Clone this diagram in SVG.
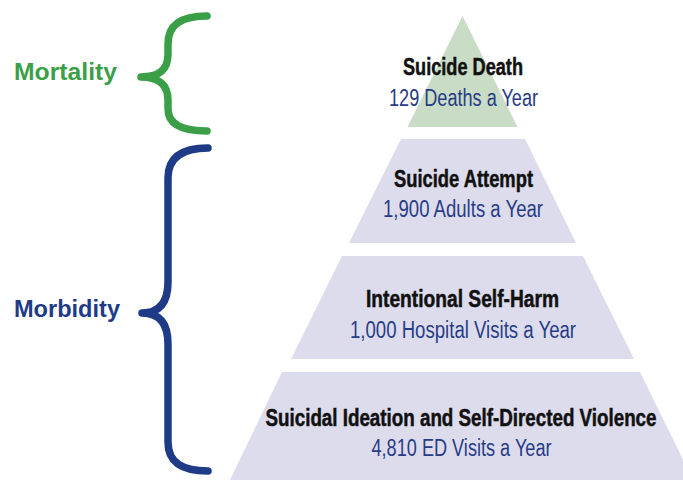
<svg xmlns="http://www.w3.org/2000/svg" width="683" height="480" viewBox="0 0 683 480">
  <style>
    .bg { fill: #ffffff; }
    .green { fill: #c9dcc5; }
    .lav { fill: #dddced; }
    .title { font-family: "Liberation Sans", Arial, sans-serif; font-weight: bold; font-size: 23px; fill: #111111; stroke: #111111; stroke-width: 0.5px; text-anchor: middle; }
    .sub { font-family: "Liberation Sans", Arial, sans-serif; font-size: 23px; fill: #283c86; text-anchor: middle; }
    .brace { fill: none; stroke-width: 7.5; stroke-linecap: round; stroke-linejoin: round; }
    .label { font-family: "Liberation Sans", Arial, sans-serif; font-weight: bold; font-size: 23px; }
  </style>
  <rect class="bg" x="0" y="0" width="683" height="480"/>

  <g id="tier-suicide-death">
    <polygon class="green" points="462.5,16 517.5,127 407.5,127"/>
    <text class="title" x="463" y="75" textLength="120" lengthAdjust="spacingAndGlyphs">Suicide Death</text>
    <text class="sub" x="463.5" y="106" textLength="149" lengthAdjust="spacingAndGlyphs">129 Deaths a Year</text>
  </g>

  <g id="tier-suicide-attempt">
    <polygon class="lav" points="401,139 525,139 576,243 349,243"/>
    <text class="title" x="463.5" y="187" textLength="139" lengthAdjust="spacingAndGlyphs">Suicide Attempt</text>
    <text class="sub" x="463" y="217" textLength="160" lengthAdjust="spacingAndGlyphs">1,900 Adults a Year</text>
  </g>

  <g id="tier-self-harm">
    <polygon class="lav" points="342,256 583,256 634,359 291,359"/>
    <text class="title" x="462.5" y="307" textLength="193" lengthAdjust="spacingAndGlyphs">Intentional Self-Harm</text>
    <text class="sub" x="463" y="338" textLength="226" lengthAdjust="spacingAndGlyphs">1,000 Hospital Visits a Year</text>
  </g>

  <g id="tier-ideation">
    <polygon class="lav" points="282,372 640,372 694,482 229,482"/>
    <text class="title" x="461" y="426" textLength="391" lengthAdjust="spacingAndGlyphs">Suicidal Ideation and Self-Directed Violence</text>
    <text class="sub" x="461.5" y="455.5" textLength="180" lengthAdjust="spacingAndGlyphs">4,810 ED Visits a Year</text>
  </g>

  <g id="connectors">
    <g id="mortality-brace">
      <path class="brace" stroke="#3b9f48" d="M207,16 C184,16 168,23 168,44 L168,54 C168,70 159,77 141,77 C159,77 168,85 168,100 L168,109 C168,125 184,131 207,131"/>
      <text class="label" x="14" y="79.5" fill="#3b9f48" textLength="103" lengthAdjust="spacingAndGlyphs">Mortality</text>
    </g>
    <g id="morbidity-brace">
      <path class="brace" stroke="#1f3b88" d="M208,148 C184,148 168,156 168,178 L168,282 C168,302 160,313 142,313 C160,313 168,324 168,344 L168,442 C168,464 184,471 208,471"/>
      <text class="label" x="14" y="316.5" fill="#1f3b88" textLength="106" lengthAdjust="spacingAndGlyphs">Morbidity</text>
    </g>
  </g>
</svg>
